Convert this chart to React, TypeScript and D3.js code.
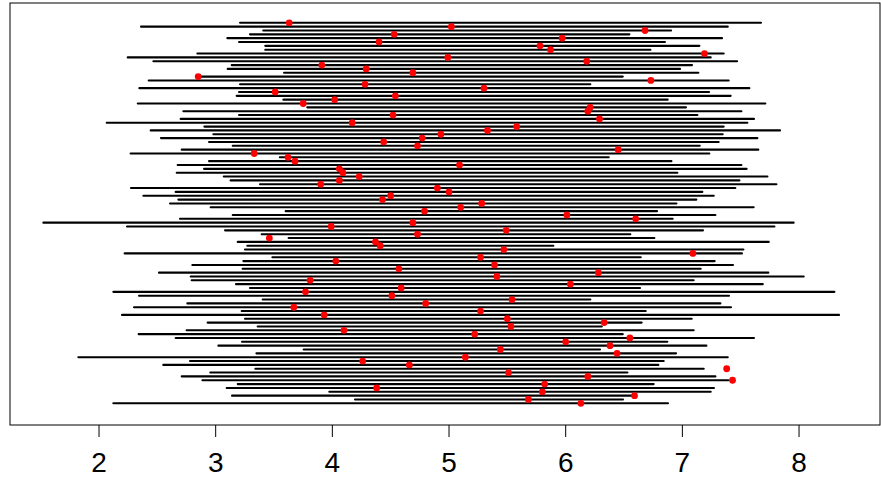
import React from "react";
import * as d3 from "d3";

// interval ends and point estimates, listed top row first
const lower = [3.209, 2.36, 3.408, 3.294, 3.10, 3.20, 3.425, 3.425, 2.843, 2.246,
  2.466, 3.137, 3.103, 3.586, 2.87, 2.426, 3.209, 2.346, 3.20, 3.18,
  3.58, 2.332, 3.785, 2.723, 3.20, 2.70, 2.066, 2.903, 2.443, 2.98,
  2.531, 2.943, 3.146, 2.709, 2.271, 3.55, 2.943, 2.674, 2.90, 2.666,
  3.069, 3.128, 3.38, 2.274, 2.657, 2.38, 2.68, 2.609, 2.957, 3.60,
  3.146, 2.694, 1.523, 2.24, 3.08, 3.394, 3.625, 3.189, 3.271, 3.251,
  2.22, 3.486, 3.237, 2.80, 3.231, 2.514, 2.786, 2.794, 3.174, 3.294,
  2.123, 2.343, 3.403, 2.757, 2.30, 3.223, 2.197, 3.251, 2.931, 3.36,
  2.751, 2.34, 2.657, 3.226, 3.023, 3.754, 3.349, 1.823, 2.78, 2.551,
  3.34, 2.954, 2.709, 2.886, 3.189, 3.094, 3.974, 3.14, 4.194, 2.123];

const upper = [7.674, 7.389, 6.903, 6.546, 7.34, 6.851, 7.146, 6.726, 7.354, 7.243,
  7.469, 7.083, 6.98, 7.137, 6.489, 7.397, 6.211, 7.574, 7.229, 7.414,
  6.874, 7.711, 7.031, 7.506, 7.129, 7.614, 7.557, 7.354, 7.837, 7.346,
  7.643, 7.311, 7.149, 7.651, 7.231, 6.369, 6.906, 7.506, 7.551, 6.957,
  7.729, 7.489, 7.806, 7.454, 7.171, 7.269, 7.12, 6.949, 7.611, 6.783,
  7.283, 6.917, 7.954, 7.789, 7.177, 6.554, 6.76, 7.74, 5.894, 7.523,
  7.511, 6.643, 7.277, 7.434, 7.157, 7.737, 8.04, 7.097, 7.689, 6.637,
  8.303, 7.40, 6.211, 7.326, 7.417, 6.686, 8.343, 7.08, 6.651, 6.309,
  7.097, 6.489, 7.614, 6.871, 7.206, 6.294, 6.946, 7.389, 6.84, 6.794,
  7.183, 6.529, 7.283, 7.394, 6.754, 7.271, 7.243, 6.566, 6.491, 6.877];

const points = [3.63, 5.02, 6.68, 4.53, 5.97, 4.40, 5.78, 5.87, 7.19, 4.99,
  6.18, 3.91, 4.29, 4.69, 2.85, 6.73, 4.28, 5.30, 3.51, 4.54,
  4.02, 3.75, 6.21, 6.19, 4.52, 6.29, 4.17, 5.58, 5.33, 4.93,
  4.77, 4.44, 4.73, 6.45, 3.33, 3.62, 3.68, 5.09, 4.06, 4.09,
  4.23, 4.06, 3.90, 4.90, 5.00, 4.50, 4.43, 5.28, 5.10, 4.79,
  6.01, 6.60, 4.69, 3.99, 5.49, 4.73, 3.46, 4.37, 4.41, 5.47,
  7.09, 5.27, 4.03, 5.39, 4.57, 6.28, 5.41, 3.81, 6.04, 4.59,
  3.77, 4.51, 5.54, 4.80, 3.67, 5.27, 3.93, 5.50, 6.33, 5.53,
  4.10, 5.22, 6.55, 6.00, 6.38, 5.44, 6.44, 5.14, 4.26, 4.66,
  7.38, 5.51, 6.19, 7.43, 5.82, 4.38, 5.80, 6.59, 5.68, 6.13];

const xTicks = [2, 3, 4, 5, 6, 7, 8];

const W = 881, H = 499;
const margin = { top: 3, right: 1, bottom: 74, left: 10 };

export default function App() {
  const x = d3.scaleLinear().domain([1.237, 8.694]).range([margin.left, W - margin.right]);
  const y = d3.scaleLinear().domain([-5.15, 104.64]).range([margin.top, H - margin.bottom]);
  const rows = d3.range(lower.length);

  return (
    <svg width={W} height={H} style={{ position: "absolute", left: 0, top: 0 }}
      fontFamily="'Liberation Sans', Arial, sans-serif">
      <rect x={0} y={0} width={W} height={H} fill="white" />
      {rows.map(i => (
        <line key={"s" + i} x1={x(lower[i])} x2={x(upper[i])} y1={y(i)} y2={y(i)}
          stroke="black" strokeWidth={2.1} strokeLinecap="round" />
      ))}
      {rows.map(i => (
        <circle key={"p" + i} cx={x(points[i])} cy={y(i)} r={3.4} fill="#ff0000" />
      ))}
      <rect x={margin.left} y={margin.top} width={W - margin.left - margin.right}
        height={H - margin.bottom - margin.top} fill="none" stroke="black" strokeWidth={1} />
      {xTicks.map(t => (
        <g key={t} transform={`translate(${x(t)},${H - margin.bottom})`}>
          <line y1={0} y2={12} stroke="black" strokeWidth={1} />
          <text y={47} textAnchor="middle" fontSize={28} fill="black">{t}</text>
        </g>
      ))}
    </svg>
  );
}
